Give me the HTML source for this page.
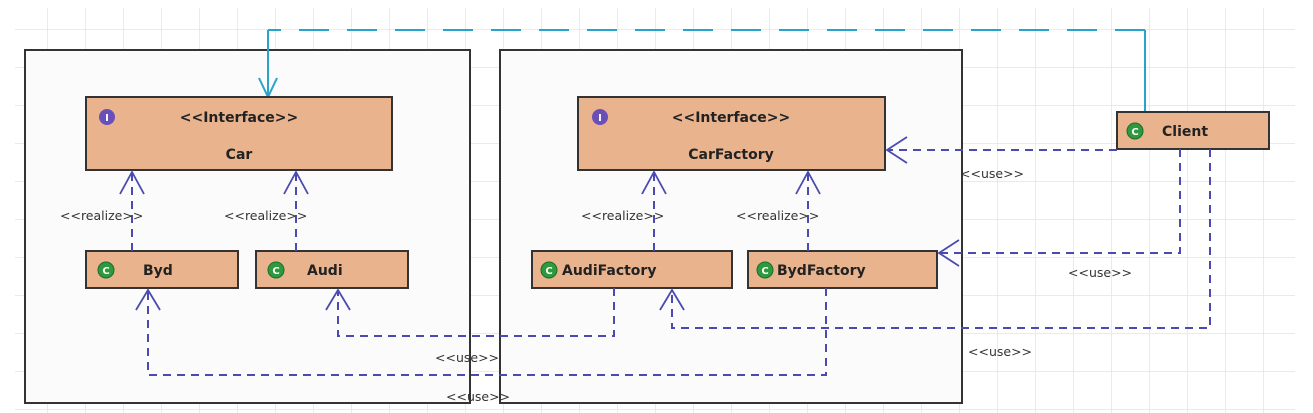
<!DOCTYPE html>
<html><head><meta charset="utf-8"><style>
html,body{margin:0;padding:0;background:#fff;}
svg{display:block;font-family:"DejaVu Sans","Liberation Sans",sans-serif;}
.b{fill:#e8b38d;stroke:#333;stroke-width:2;}
.t{font-size:14px;font-weight:bold;fill:#222;}
.l{font-size:12.5px;fill:#333;}
.d{fill:none;stroke:#4a4ab0;stroke-width:2;stroke-dasharray:8,6;}
.a{fill:none;stroke:#4a4ab0;stroke-width:1.8;}
</style></head><body>
<svg width="1313" height="413" viewBox="0 0 1313 413">
<defs>
<pattern id="g" x="9" y="29" width="38" height="38" patternUnits="userSpaceOnUse">
<path d="M0 0H38M0 0V38" stroke="#e4e4e4" stroke-width="1.5" fill="none"/>
</pattern>
</defs>
<rect x="15" y="8" width="1280" height="405" fill="url(#g)"/>
<rect x="25" y="50" width="445" height="353" fill="#fbfbfb" stroke="#333" stroke-width="2"/>
<rect x="500" y="50" width="462" height="353" fill="#fbfbfb" stroke="#333" stroke-width="2"/>
<path d="M1145 112V30" stroke="#2aa3c8" stroke-width="2" fill="none"/>
<path d="M1145 30H268" stroke="#2aa3c8" stroke-width="2" fill="none" stroke-dasharray="30,18"/>
<path d="M268 30V97M259 78L268 97L277 78" stroke="#2aa3c8" stroke-width="2" fill="none"/>
<rect class="b" x="86" y="97" width="306" height="73"/>
<circle cx="107" cy="117" r="8" fill="#6a4fb8"/><text x="107" y="121" font-size="10" fill="#fff" text-anchor="middle" font-weight="bold">I</text>
<text class="t" x="239" y="122" text-anchor="middle">&lt;&lt;Interface&gt;&gt;</text>
<text class="t" x="239" y="159" text-anchor="middle">Car</text>
<rect class="b" x="578" y="97" width="307" height="73"/>
<circle cx="600" cy="117" r="8" fill="#6a4fb8"/><text x="600" y="121" font-size="10" fill="#fff" text-anchor="middle" font-weight="bold">I</text>
<text class="t" x="731" y="122" text-anchor="middle">&lt;&lt;Interface&gt;&gt;</text>
<text class="t" x="731" y="159" text-anchor="middle">CarFactory</text>
<g>
<rect class="b" x="86" y="251" width="152" height="37"/>
<rect class="b" x="256" y="251" width="152" height="37"/>
<rect class="b" x="532" y="251" width="200" height="37"/>
<rect class="b" x="748" y="251" width="189" height="37"/>
<rect class="b" x="1117" y="112" width="152" height="37"/>
</g>
<g fill="#2e9a3e" stroke="#1d6b29" stroke-width="1">
<circle cx="106" cy="270" r="8"/><circle cx="276" cy="270" r="8"/><circle cx="549" cy="270" r="8"/><circle cx="765" cy="270" r="8"/><circle cx="1135" cy="131" r="8"/>
</g>
<g font-size="10" fill="#fff" text-anchor="middle" font-weight="bold">
<text x="106" y="274">C</text><text x="276" y="274">C</text><text x="549" y="274">C</text><text x="765" y="274">C</text><text x="1135" y="135">C</text>
</g>
<text class="t" x="143" y="275">Byd</text>
<text class="t" x="307" y="275">Audi</text>
<text class="t" x="562" y="275">AudiFactory</text>
<text class="t" x="777" y="275">BydFactory</text>
<text class="t" x="1162" y="136">Client</text>
<path class="d" d="M132 251V172M296 251V172M654 251V172M808 251V172"/>
<path class="a" d="M120 194L132 172L144 194M284 194L296 172L308 194M642 194L654 172L666 194M796 194L808 172L820 194"/>
<g class="l">
<text x="60" y="220">&lt;&lt;realize&gt;&gt;</text>
<text x="224" y="220">&lt;&lt;realize&gt;&gt;</text>
<text x="581" y="220">&lt;&lt;realize&gt;&gt;</text>
<text x="736" y="220">&lt;&lt;realize&gt;&gt;</text>
</g>
<path class="d" d="M1117 150H887"/>
<path class="a" d="M907 137L887 150L907 163"/>
<path class="d" d="M1180 149V253H939"/>
<path class="a" d="M959 240L939 253L959 266"/>
<path class="d" d="M1210 149V328H672V290"/>
<path class="a" d="M660 310L672 290L684 310"/>
<path class="d" d="M614 288V336H338V290"/>
<path class="a" d="M326 310L338 290L350 310"/>
<path class="d" d="M826 288V375H148V290"/>
<path class="a" d="M136 310L148 290L160 310"/>
<g class="l">
<text x="960" y="178">&lt;&lt;use&gt;&gt;</text>
<text x="1068" y="277">&lt;&lt;use&gt;&gt;</text>
<text x="968" y="356">&lt;&lt;use&gt;&gt;</text>
<text x="435" y="362">&lt;&lt;use&gt;&gt;</text>
<text x="446" y="401">&lt;&lt;use&gt;&gt;</text>
</g>
</svg>
</body></html>
